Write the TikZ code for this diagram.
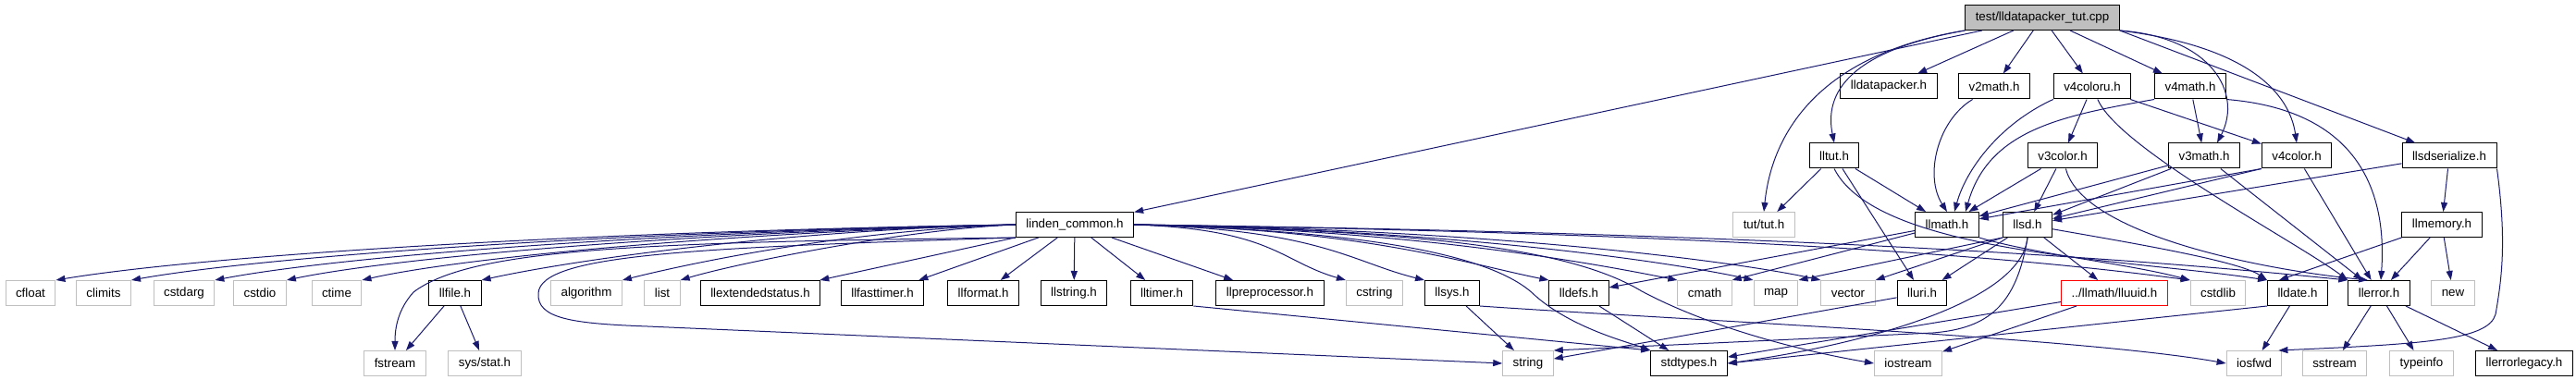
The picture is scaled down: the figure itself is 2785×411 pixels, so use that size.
\documentclass[tikz,border=0pt]{standalone}
\usepackage{fontspec}
\setmainfont{Liberation Sans}
\usetikzlibrary{arrows.meta}
\definecolor{edgec}{HTML}{191970}
\definecolor{greyc}{HTML}{BFBFBF}
\begin{document}
\begin{tikzpicture}[x=1pt,y=1pt,
  box/.style={rectangle, minimum height=27pt, inner xsep=11pt, inner ysep=0pt,
    font=\fontsize{13.33}{16}\selectfont, line width=1pt},
  blk/.style={box, draw=black},
  sys/.style={box, draw=greyc},
  red/.style={box, draw=red},
  e/.style={draw=edgec, line width=1pt, -{Triangle[length=10pt,width=7pt]}}]
\useasboundingbox (0,0) rectangle (2785,-411);
% rank 0
\node[blk,fill=greyc] (root) at (2208,-19) {test/lldatapacker\_tut.cpp};
% rank 1
\node[blk] (datapacker) at (2042,-93.5) {lldatapacker.h};
\node[blk] (v2math) at (2156,-93.5) {v2math.h};
\node[blk] (v4coloru) at (2262,-93.5) {v4coloru.h};
\node[blk] (v4math) at (2368,-93.5) {v4math.h};
% rank 2
\node[blk] (lltut) at (1983,-168.5) {lltut.h};
\node[blk] (v3color) at (2230,-168.5) {v3color.h};
\node[blk] (v3math) at (2383,-168.5) {v3math.h};
\node[blk] (v4color) at (2483,-168.5) {v4color.h};
\node[blk] (llsdser) at (2648,-168.5) {llsdserialize.h};
% rank 3
\node[blk] (lc) at (1162,-243) {linden\_common.h};
\node[sys] (tut) at (1907,-243) {tut/tut.h};
\node[blk] (llmath) at (2105,-243) {llmath.h};
\node[blk] (llsd) at (2192,-243) {llsd.h};
\node[blk] (llmemory) at (2640,-243) {llmemory.h};
% rank 4
\node[sys] (cfloat) at (33,-317) {cfloat};
\node[sys] (climits) at (112,-317) {climits};
\node[sys] (cstdarg) at (199,-317) {cstdarg};
\node[sys] (cstdio) at (281,-317) {cstdio};
\node[sys] (ctime) at (364,-317) {ctime};
\node[blk] (llfile) at (492,-317) {llfile.h};
\node[sys] (algorithm) at (634,-317) {algorithm};
\node[sys] (list) at (716,-317) {list};
\node[blk] (llext) at (822,-317) {llextendedstatus.h};
\node[blk] (llfasttimer) at (954,-317) {llfasttimer.h};
\node[blk] (llformat) at (1063,-317) {llformat.h};
\node[blk] (llstring) at (1161,-317) {llstring.h};
\node[blk] (lltimer) at (1256,-317) {lltimer.h};
\node[blk] (llpreproc) at (1373,-317) {llpreprocessor.h};
\node[sys] (cstring) at (1486,-317) {cstring};
\node[blk] (llsys) at (1570,-317) {llsys.h};
\node[blk] (lldefs) at (1707,-317) {lldefs.h};
\node[sys] (cmath) at (1843,-317) {cmath};
\node[sys] (map) at (1920,-317) {map};
\node[sys] (vector) at (1998,-317) {vector};
\node[blk] (lluri) at (2078,-317) {lluri.h};
\node[red] (lluuid) at (2286,-317) {../llmath/lluuid.h};
\node[sys] (cstdlib) at (2398,-317) {cstdlib};
\node[blk] (lldate) at (2484,-317) {lldate.h};
\node[blk] (llerror) at (2572,-317) {llerror.h};
\node[sys] (new) at (2652,-317) {new};
% rank 5
\node[sys] (fstream) at (427,-393) {fstream};
\node[sys] (sysstat) at (524,-393) {sys/stat.h};
\node[sys] (string) at (1652,-393) {string};
\node[blk] (stdtypes) at (1826,-393) {stdtypes.h};
\node[sys] (iostream) at (2063,-393) {iostream};
\node[sys] (iosfwd) at (2437,-393) {iosfwd};
\node[sys] (sstream) at (2524,-393) {sstream};
\node[sys] (typeinfo) at (2618,-393) {typeinfo};
\node[blk] (llerrleg) at (2729,-393) {llerrorlegacy.h};

% root
\draw[e] (root) -- (lc);
\draw[e] (root.south west) .. controls (2000,-55) and (1972,-100) .. (lltut.north);
\draw[e] (root.south west) .. controls (1960,-60) and (1915,-150) .. (tut.north);
\draw[e] (root) -- (datapacker);
\draw[e] (root) -- (v2math);
\draw[e] (root) -- (v4coloru);
\draw[e] (root) -- (v4math);
\draw[e] (root.south east) .. controls (2390,-40) and (2425,-100) .. ([xshift=14pt]v3math.north);
\draw[e] (root.south east) .. controls (2430,-50) and (2475,-100) .. (v4color.north);
\draw[e] (root.south east) -- (llsdser);
% lltut
\draw[e] (lltut) -- (tut);
\draw[e] (lltut) -- (llmath);
\draw[e] (lltut) -- (lluri);
\draw[e] (lltut.south) .. controls (2030,-275) and (2300,-280) .. (lldate.north west);
% v2math
\draw[e] (v2math) .. controls (2095,-130) and (2080,-190) .. (llmath.north);
% v4coloru
\draw[e] (v4coloru.south west) .. controls (2160,-135) and (2125,-185) .. ([xshift=8pt]llmath.north);
\draw[e] (v4coloru) -- (v3color);
\draw[e] (v4coloru) -- (v4color);
\draw[e] (v4coloru) .. controls (2290,-160) and (2480,-260) .. (llerror.north west);
% v4math
\draw[e] (v4math.south west) .. controls (2230,-125) and (2150,-140) .. ([xshift=20pt]llmath.north);
\draw[e] (v4math) -- (v3math);
\draw[e] (v4math.south east) .. controls (2560,-120) and (2580,-220) .. ([xshift=2pt]llerror.north);
% v3color
\draw[e] (v3color) -- (llmath);
\draw[e] (v3color) -- (llsd);
\draw[e] (v3color) .. controls (2250,-250) and (2430,-290) .. ([xshift=-12pt]llerror.north);
% v3math
\draw[e] (v3math) -- (llmath);
\draw[e] (v3math) -- (llsd);
\draw[e] (v3math) -- (llerror);
% v4color
\draw[e] (v4color.south west) -- (llmath);
\draw[e] (v4color.south west) -- (llsd);
\draw[e] (v4color) -- (llerror);
% llsdserialize
\draw[e] (llsdser) -- (llsd);
\draw[e] (llsdser) -- (llmemory);
\draw[e] (llsdser.south east) .. controls (2710,-260) and (2705,-300) .. (2698,-340)
  .. controls (2690,-368) and (2620,-372) .. ([xshift=-4pt]iosfwd.north east);
% llmemory
\draw[e] (llmemory) -- (llerror);
\draw[e] (llmemory) -- (new);
\draw[e] (llmemory.south west) -- ([xshift=-20pt]lldate.north);
% llmath
\draw[e] (llmath) -- (lldefs);
\draw[e] (llmath) -- (cmath.north east);
\draw[e] (llmath.south east) .. controls (2200,-275) and (2300,-285) .. (cstdlib.north west);
% llsd
\draw[e] (llsd.south west) -- (map.north east);
\draw[e] (llsd.south west) -- (vector.north east);
\draw[e] (llsd) -- (lluri);
\draw[e] (llsd) -- (lluuid);
\draw[e] (llsd) .. controls (2300,-262) and (2420,-282) .. (lldate.north west);
\draw[e] (llsd.south) .. controls (2185,-330) and (2000,-375) .. (stdtypes.east);
\draw[e] (llsd.south) .. controls (2180,-330) and (2150,-355) .. (2090,-360) -- (string.north east);
% lluuid
\draw[e] (lluuid) -- (stdtypes);
\draw[e] (lluuid) -- (iostream);
% lldate
\draw[e] (lldate.south west) -- (stdtypes.east);
\draw[e] (lldate) -- (iosfwd);
% lluri
\draw[e] (lluri) -- (string);
% llsys
\draw[e] (llsys) -- (string);
\draw[e] (llsys.south east) .. controls (1800,-345) and (2250,-365) .. (iosfwd.west);
% lldefs, lltimer
\draw[e] (lldefs) -- (stdtypes);
\draw[e] (lltimer.south east) -- (stdtypes.north west);
% llfile
\draw[e] (llfile) -- (fstream);
\draw[e] (llfile) -- (sysstat);
% llerror
\draw[e] (llerror) -- (sstream);
\draw[e] (llerror) -- (typeinfo);
\draw[e] (llerror) -- (llerrleg);
% linden_common, left group
\draw[e] (lc.west) .. controls +(-500,-8) and +(150,25) .. (cfloat.north east);
\draw[e] (lc.west) .. controls +(-450,-8) and +(140,25) .. (climits.north east);
\draw[e] (lc.west) .. controls +(-400,-8) and +(130,25) .. (cstdarg.north east);
\draw[e] (lc.west) .. controls +(-350,-8) and +(120,25) .. (cstdio.north east);
\draw[e] (lc.west) .. controls +(-300,-8) and +(110,25) .. (ctime.north east);
\draw[e] (lc.west) .. controls +(-250,-6) and +(100,22) .. (llfile.north east);
\draw[e] (lc.west) .. controls +(-180,-6) and +(80,20) .. (algorithm.north east);
\draw[e] (lc.west) .. controls +(-120,-5) and +(60,18) .. (list.north east);
\draw[e] (lc.south west) .. controls (700,-262) and (510,-268) .. (447,-316)
  .. controls (430,-335) and (427,-355) .. (fstream.north);
\draw[e] (lc.south west) .. controls (750,-268) and (585,-275) .. (582,-317)
  .. controls (580,-345) and (620,-350) .. (700,-353) -- (string.west);
% linden_common, middle
\draw[e] (lc) -- (llext);
\draw[e] (lc) -- (llfasttimer);
\draw[e] (lc) -- (llformat);
\draw[e] (lc) -- (llstring);
\draw[e] (lc) -- (lltimer);
\draw[e] (lc) -- (llpreproc);
% linden_common, right group
\draw[e] (lc.east) .. controls +(150,-5) and +(-70,20) .. (cstring.north west);
\draw[e] (lc.east) .. controls +(200,-5) and +(-80,20) .. (llsys.north west);
\draw[e] (lc.east) .. controls +(250,-5) and +(-90,18) .. (lldefs.north west);
\draw[e] (lc.east) .. controls +(300,-5) and +(-90,18) .. (cmath.north west);
\draw[e] (lc.east) .. controls +(350,-5) and +(-80,18) .. (map.north west);
\draw[e] (lc.east) .. controls +(400,-5) and +(-80,18) .. (vector.north west);
\draw[e] (lc.east) .. controls +(700,-10) and +(-150,20) .. (cstdlib.north west);
\draw[e] (lc.east) .. controls +(800,-10) and +(-150,15) .. (llerror.north west);
\draw[e] (lc.east) .. controls (1500,-250) and (1620,-280) .. (1660,-320)
  .. controls (1700,-355) and (1760,-370) .. (stdtypes.north west);
\draw[e] (lc.east) .. controls (1550,-250) and (1700,-270) .. (1775,-315)
  .. controls (1850,-355) and (1950,-380) .. (iostream.west);
\end{tikzpicture}
\end{document}
